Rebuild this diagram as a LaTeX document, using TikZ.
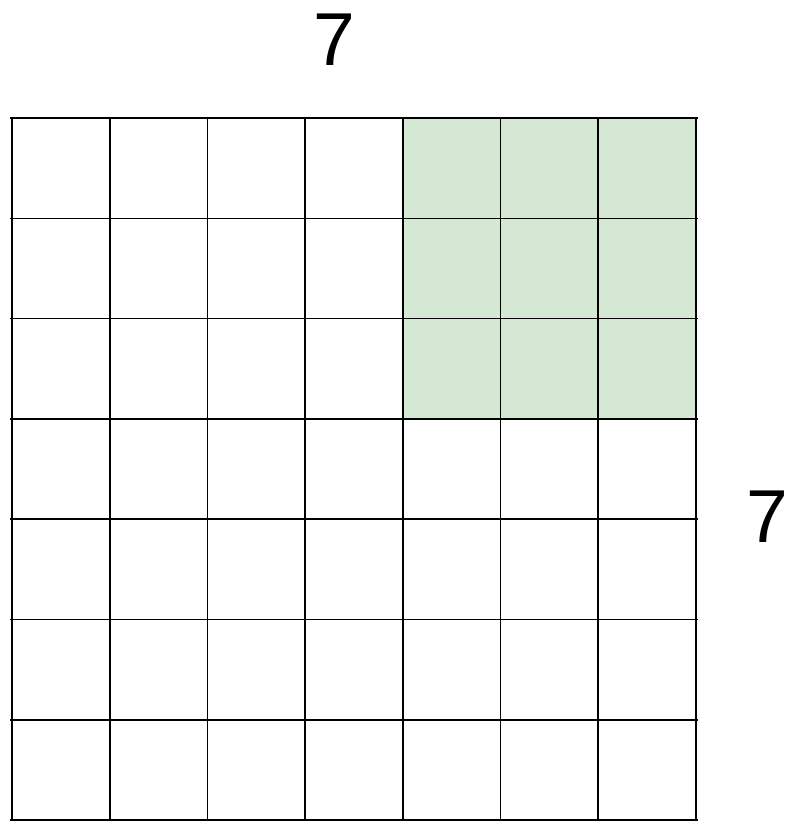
\documentclass[tikz,border=0pt]{standalone}
\usepackage{fontspec}
\setmainfont{Liberation Sans}
\usepackage{xcolor}

\begin{document}
\begin{tikzpicture}[x=1pt, y=-1pt]
			% Define colors
			\definecolor{filterbg}{RGB}{213, 232, 212}

			% Styles
			\tikzstyle{grid_line} = [draw=black, line width=1.6pt]
			\tikzstyle{size_label} = [font=\fontsize{75}{75}\selectfont, inner sep=0pt, anchor=center]

			% Grid geometry
			\def\gleft{12}
			\def\gtop{118}
			\def\cellw{97.7}
			\def\cellh{100.3}

			\useasboundingbox (0, 0) rectangle (787, 821);

			% Filter window (top right 3x3)
			\fill[filterbg] (\gleft+4*\cellw, \gtop) rectangle (\gleft+7*\cellw, \gtop+3*\cellh);

			% Rows
			\foreach \r in {0,...,7} {
				\draw[grid_line] (10, \gtop+\r*\cellh) -- (698, \gtop+\r*\cellh);
			}
			% Columns
			\foreach \c in {0,...,7} {
				\draw[grid_line] (\gleft+\c*\cellw, \gtop) -- (\gleft+\c*\cellw, \gtop+7*\cellh);
			}

			% Size labels
			\node[size_label] (width) at (334, 40) {7};
			\node[size_label] (height) at (767, 517) {7};

		\end{tikzpicture}
\end{document}
